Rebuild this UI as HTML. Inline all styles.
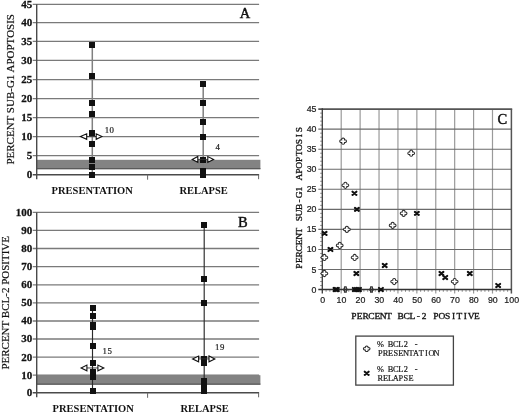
<!DOCTYPE html>
<html><head><meta charset="utf-8"><style>
html,body{margin:0;padding:0;background:#fff;}
svg{display:block;will-change:transform;filter:blur(0.3px);}
.tl{font-family:"Liberation Serif",serif;font-weight:bold;font-size:10.5px;fill:#111;text-anchor:end;stroke:#111;stroke-width:0.25px;}
.ml{font-family:"Liberation Serif",serif;font-size:8.8px;fill:#1a1a1a;stroke:#1a1a1a;stroke-width:0.2px;}
.let{font-family:"Liberation Serif",serif;font-weight:normal;font-size:14.5px;fill:#111;stroke:#111;stroke-width:0.45px;}
.yl{font-family:"Liberation Serif",serif;font-size:11px;fill:#111;stroke:#111;stroke-width:0.2px;}
.xl{font-family:"Liberation Serif",serif;font-weight:bold;font-size:10.5px;fill:#111;}
.ct{font-family:"Liberation Sans",sans-serif;font-size:8.8px;fill:#1a1a1a;stroke:#1a1a1a;stroke-width:0.2px;}
.cl{font-family:"Liberation Serif",serif;font-weight:normal;font-size:8.2px;fill:#111;stroke:#111;stroke-width:0.3px;}
.lg{font-family:"Liberation Serif",serif;font-size:7.7px;fill:#1a1a1a;stroke:#1a1a1a;stroke-width:0.2px;}
</style></head><body>
<svg width="520" height="413" viewBox="0 0 520 413">
<rect width="520" height="413" fill="#fff"/>
<rect x="36.7" y="159.8" width="223.7" height="9.36" fill="#838383"/>
<line x1="36.7" x2="260.4" y1="168.56" y2="168.56" stroke="#5a5a5a" stroke-width="1.2"/>
<line x1="32.7" x2="259.1" y1="155.6" y2="155.6" stroke="#7a7a7a" stroke-width="1.3"/>
<line x1="32.7" x2="259.1" y1="136.6" y2="136.6" stroke="#7a7a7a" stroke-width="1.3"/>
<line x1="32.7" x2="259.1" y1="117.7" y2="117.7" stroke="#7a7a7a" stroke-width="1.3"/>
<line x1="32.7" x2="259.1" y1="98.6" y2="98.6" stroke="#7a7a7a" stroke-width="1.3"/>
<line x1="32.7" x2="259.1" y1="79.7" y2="79.7" stroke="#7a7a7a" stroke-width="1.3"/>
<line x1="32.7" x2="259.1" y1="60.4" y2="60.4" stroke="#7a7a7a" stroke-width="1.3"/>
<line x1="32.7" x2="259.1" y1="41.3" y2="41.3" stroke="#7a7a7a" stroke-width="1.3"/>
<line x1="32.7" x2="259.1" y1="22.6" y2="22.6" stroke="#7a7a7a" stroke-width="1.3"/>
<line x1="32.7" x2="259.1" y1="4.3" y2="4.3" stroke="#7a7a7a" stroke-width="1.3"/>
<line x1="32.7" x2="259.1" y1="174.7" y2="174.7" stroke="#4a4a4a" stroke-width="1.4"/>
<line x1="147.6" x2="147.6" y1="174.7" y2="179.7" stroke="#666" stroke-width="1.0"/>
<line x1="258.6" x2="258.6" y1="174.7" y2="179.2" stroke="#666" stroke-width="1.0"/>
<line x1="36.7" x2="36.7" y1="4.3" y2="179.2" stroke="#4a4a4a" stroke-width="1.4"/>
<text x="0" y="0" class="tl" transform="translate(32.2,178.1) scale(1.05,1)">0</text>
<text x="0" y="0" class="tl" transform="translate(32.2,159) scale(1.05,1)">5</text>
<text x="0" y="0" class="tl" transform="translate(32.2,140) scale(1.05,1)">10</text>
<text x="0" y="0" class="tl" transform="translate(32.2,121.1) scale(1.05,1)">15</text>
<text x="0" y="0" class="tl" transform="translate(32.2,102) scale(1.05,1)">20</text>
<text x="0" y="0" class="tl" transform="translate(32.2,83.1) scale(1.05,1)">25</text>
<text x="0" y="0" class="tl" transform="translate(32.2,63.8) scale(1.05,1)">30</text>
<text x="0" y="0" class="tl" transform="translate(32.2,44.7) scale(1.05,1)">35</text>
<text x="0" y="0" class="tl" transform="translate(32.2,26) scale(1.05,1)">40</text>
<text x="0" y="0" class="tl" transform="translate(32.2,7.7) scale(1.05,1)">45</text>
<line x1="92.3" x2="92.3" y1="45.12" y2="174.7" stroke="#808080" stroke-width="1.5"/>
<line x1="203.2" x2="203.2" y1="83.48" y2="174.7" stroke="#808080" stroke-width="1.5"/>
<rect x="89" y="42" width="6" height="6" fill="#111"/>
<rect x="89" y="73" width="6" height="6" fill="#111"/>
<rect x="89" y="100" width="6" height="6" fill="#111"/>
<rect x="89" y="111" width="6" height="6" fill="#111"/>
<rect x="89" y="130" width="6" height="6" fill="#111"/>
<rect x="89" y="141" width="6" height="6" fill="#111"/>
<rect x="89" y="157" width="6" height="6" fill="#111"/>
<rect x="89" y="164" width="6" height="6" fill="#111"/>
<rect x="89" y="172" width="6" height="6" fill="#111"/>
<rect x="200" y="81" width="6" height="6" fill="#111"/>
<rect x="200" y="100" width="6" height="6" fill="#111"/>
<rect x="200" y="119" width="6" height="6" fill="#111"/>
<rect x="200" y="134" width="6" height="6" fill="#111"/>
<rect x="200" y="157" width="6" height="6" fill="#111"/>
<rect x="200" y="168" width="6" height="6" fill="#111"/>
<rect x="200" y="172" width="6" height="6" fill="#111"/>
<line x1="86.7" x2="96.2" y1="136.6" y2="136.6" stroke="#333" stroke-width="0.9"/>
<path d="M80.5,136.6 L86.7,133.85 L86.7,139.35 Z M101.9,136.6 L96.2,133.85 L96.2,139.35 Z" fill="#fff" stroke="#111" stroke-width="1.1" stroke-linejoin="miter"/>
<line x1="197.8" x2="207.8" y1="159.42" y2="159.42" stroke="#333" stroke-width="0.9"/>
<path d="M192.2,159.42 L197.8,156.52 L197.8,162.32 Z M213.6,159.42 L207.8,156.52 L207.8,162.32 Z" fill="#fff" stroke="#111" stroke-width="1.1" stroke-linejoin="miter"/>
<g transform="scale(1.0,1)"><text y="132.6" class="ml" text-anchor="middle"><tspan x="106.9">1</tspan><tspan x="111.8">0</tspan></text></g>
<g transform="scale(1.0,1)"><text y="149.9" class="ml" text-anchor="middle"><tspan x="217.7">4</tspan></text></g>
<text x="239.8" y="18" class="let" transform="translate(239.8,18) scale(1,1) translate(-239.8,-18)">A</text>
<text x="0" y="0" class="yl" text-anchor="middle" transform="translate(14,89.3) rotate(-90)">PERCENT SUB-G1 APOPTOSIS</text>
<text x="92.2" y="193.8" class="xl" text-anchor="middle">PRESENTATION</text>
<text x="203.6" y="193.8" class="xl" text-anchor="middle">RELAPSE</text>
<rect x="36.7" y="375.2" width="223.7" height="9.5" fill="#838383"/>
<line x1="36.7" x2="260.4" y1="384.1" y2="384.1" stroke="#5a5a5a" stroke-width="1.2"/>
<line x1="32.7" x2="259.1" y1="375.2" y2="375.2" stroke="#7a7a7a" stroke-width="1.3"/>
<line x1="32.7" x2="259.1" y1="357.1" y2="357.1" stroke="#7a7a7a" stroke-width="1.3"/>
<line x1="32.7" x2="259.1" y1="339" y2="339" stroke="#7a7a7a" stroke-width="1.3"/>
<line x1="32.7" x2="259.1" y1="321" y2="321" stroke="#7a7a7a" stroke-width="1.3"/>
<line x1="32.7" x2="259.1" y1="302.9" y2="302.9" stroke="#7a7a7a" stroke-width="1.3"/>
<line x1="32.7" x2="259.1" y1="284.8" y2="284.8" stroke="#7a7a7a" stroke-width="1.3"/>
<line x1="32.7" x2="259.1" y1="266.6" y2="266.6" stroke="#7a7a7a" stroke-width="1.3"/>
<line x1="32.7" x2="259.1" y1="248.5" y2="248.5" stroke="#7a7a7a" stroke-width="1.3"/>
<line x1="32.7" x2="259.1" y1="230.3" y2="230.3" stroke="#7a7a7a" stroke-width="1.3"/>
<line x1="32.7" x2="259.1" y1="212.4" y2="212.4" stroke="#7a7a7a" stroke-width="1.3"/>
<line x1="32.7" x2="259.1" y1="392.8" y2="392.8" stroke="#4a4a4a" stroke-width="1.4"/>
<line x1="147.6" x2="147.6" y1="392.8" y2="397.8" stroke="#666" stroke-width="1.0"/>
<line x1="258.6" x2="258.6" y1="392.8" y2="397.3" stroke="#666" stroke-width="1.0"/>
<line x1="36.7" x2="36.7" y1="212.4" y2="397.3" stroke="#4a4a4a" stroke-width="1.4"/>
<text x="0" y="0" class="tl" transform="translate(32.2,396.2) scale(1.05,1)">0</text>
<text x="0" y="0" class="tl" transform="translate(32.2,378.6) scale(1.05,1)">10</text>
<text x="0" y="0" class="tl" transform="translate(32.2,360.5) scale(1.05,1)">20</text>
<text x="0" y="0" class="tl" transform="translate(32.2,342.4) scale(1.05,1)">30</text>
<text x="0" y="0" class="tl" transform="translate(32.2,324.4) scale(1.05,1)">40</text>
<text x="0" y="0" class="tl" transform="translate(32.2,306.3) scale(1.05,1)">50</text>
<text x="0" y="0" class="tl" transform="translate(32.2,288.2) scale(1.05,1)">60</text>
<text x="0" y="0" class="tl" transform="translate(32.2,270) scale(1.05,1)">70</text>
<text x="0" y="0" class="tl" transform="translate(32.2,251.9) scale(1.05,1)">80</text>
<text x="0" y="0" class="tl" transform="translate(32.2,233.7) scale(1.05,1)">90</text>
<text x="0" y="0" class="tl" transform="translate(32.2,215.8) scale(1.05,1)">100</text>
<line x1="92.5" x2="92.5" y1="308.33" y2="391.04" stroke="#2a2a2a" stroke-width="1.15"/>
<line x1="204.2" x2="204.2" y1="224.93" y2="390.69" stroke="#2a2a2a" stroke-width="1.15"/>
<rect x="90" y="305" width="6" height="6" fill="#111"/>
<rect x="90" y="313" width="6" height="6" fill="#111"/>
<rect x="90" y="322" width="6" height="6" fill="#111"/>
<rect x="90" y="324" width="6" height="6" fill="#111"/>
<rect x="90" y="343" width="6" height="6" fill="#111"/>
<rect x="90" y="360" width="6" height="6" fill="#111"/>
<rect x="90" y="369" width="6" height="6" fill="#111"/>
<rect x="90" y="370" width="6" height="6" fill="#111"/>
<rect x="90" y="372" width="6" height="6" fill="#111"/>
<rect x="90" y="374" width="6" height="6" fill="#111"/>
<rect x="90" y="388" width="6" height="6" fill="#111"/>
<rect x="201" y="222" width="6" height="6" fill="#111"/>
<rect x="201" y="276" width="6" height="6" fill="#111"/>
<rect x="201" y="300" width="6" height="6" fill="#111"/>
<rect x="201" y="356" width="6" height="6" fill="#111"/>
<rect x="201" y="360" width="6" height="6" fill="#111"/>
<rect x="201" y="378" width="6" height="6" fill="#111"/>
<rect x="201" y="381" width="6" height="6" fill="#111"/>
<rect x="201" y="384" width="6" height="6" fill="#111"/>
<rect x="201" y="386" width="6" height="6" fill="#111"/>
<rect x="201" y="388" width="6" height="6" fill="#111"/>
<line x1="86.9" x2="97.9" y1="367.96" y2="367.96" stroke="#333" stroke-width="0.9"/>
<path d="M81.1,367.96 L86.9,365.06 L86.9,370.86 Z M103.8,367.96 L97.9,365.06 L97.9,370.86 Z" fill="#fff" stroke="#111" stroke-width="1.1" stroke-linejoin="miter"/>
<line x1="198.6" x2="209" y1="358.91" y2="358.91" stroke="#333" stroke-width="0.9"/>
<path d="M192.6,358.91 L198.6,356.01 L198.6,361.81 Z M214.8,358.91 L209,356.01 L209,361.81 Z" fill="#fff" stroke="#111" stroke-width="1.1" stroke-linejoin="miter"/>
<g transform="scale(1.0,1)"><text y="354" class="ml" text-anchor="middle"><tspan x="104.7">1</tspan><tspan x="109.6">5</tspan></text></g>
<g transform="scale(1.0,1)"><text y="350" class="ml" text-anchor="middle"><tspan x="217.3">1</tspan><tspan x="222.2">9</tspan></text></g>
<text x="237.9" y="226.9" class="let" transform="translate(237.9,226.9) scale(1,1) translate(-237.9,-226.9)">B</text>
<text x="0" y="0" class="yl" text-anchor="middle" transform="translate(9.2,302.8) rotate(-90)">PERCENT BCL-2 POSITIVE</text>
<text x="93.2" y="412.2" class="xl" text-anchor="middle">PRESENTATION</text>
<text x="204.6" y="412.2" class="xl" text-anchor="middle">RELAPSE</text>
<line x1="341.21" x2="341.21" y1="109.1" y2="293.55" stroke="#9a9a9a" stroke-width="1.2"/>
<line x1="360.12" x2="360.12" y1="109.1" y2="293.55" stroke="#9a9a9a" stroke-width="1.2"/>
<line x1="379.03" x2="379.03" y1="109.1" y2="293.55" stroke="#9a9a9a" stroke-width="1.2"/>
<line x1="397.94" x2="397.94" y1="109.1" y2="293.55" stroke="#9a9a9a" stroke-width="1.2"/>
<line x1="416.85" x2="416.85" y1="109.1" y2="293.55" stroke="#9a9a9a" stroke-width="1.2"/>
<line x1="435.76" x2="435.76" y1="109.1" y2="293.55" stroke="#9a9a9a" stroke-width="1.2"/>
<line x1="454.67" x2="454.67" y1="109.1" y2="293.55" stroke="#9a9a9a" stroke-width="1.2"/>
<line x1="473.58" x2="473.58" y1="109.1" y2="293.55" stroke="#9a9a9a" stroke-width="1.2"/>
<line x1="492.49" x2="492.49" y1="109.1" y2="293.55" stroke="#9a9a9a" stroke-width="1.2"/>
<line x1="318.3" x2="511.4" y1="269.5" y2="269.5" stroke="#6a6a6a" stroke-width="1.1"/>
<line x1="318.3" x2="511.4" y1="249.45" y2="249.45" stroke="#6a6a6a" stroke-width="1.1"/>
<line x1="318.3" x2="511.4" y1="229.4" y2="229.4" stroke="#6a6a6a" stroke-width="1.1"/>
<line x1="318.3" x2="511.4" y1="209.35" y2="209.35" stroke="#6a6a6a" stroke-width="1.1"/>
<line x1="318.3" x2="511.4" y1="189.3" y2="189.3" stroke="#6a6a6a" stroke-width="1.1"/>
<line x1="318.3" x2="511.4" y1="169.25" y2="169.25" stroke="#6a6a6a" stroke-width="1.1"/>
<line x1="318.3" x2="511.4" y1="149.2" y2="149.2" stroke="#6a6a6a" stroke-width="1.1"/>
<line x1="318.3" x2="511.4" y1="129.15" y2="129.15" stroke="#6a6a6a" stroke-width="1.1"/>
<line x1="318.3" x2="512.2" y1="109.1" y2="109.1" stroke="#555" stroke-width="1.6"/>
<line x1="511.4" x2="511.4" y1="109.1" y2="293.55" stroke="#555" stroke-width="1.5"/>
<line x1="320.1" x2="322.3" y1="285.54" y2="285.54" stroke="#888" stroke-width="0.9"/>
<line x1="320.1" x2="322.3" y1="281.53" y2="281.53" stroke="#888" stroke-width="0.9"/>
<line x1="320.1" x2="322.3" y1="277.52" y2="277.52" stroke="#888" stroke-width="0.9"/>
<line x1="320.1" x2="322.3" y1="273.51" y2="273.51" stroke="#888" stroke-width="0.9"/>
<line x1="320.1" x2="322.3" y1="265.49" y2="265.49" stroke="#888" stroke-width="0.9"/>
<line x1="320.1" x2="322.3" y1="261.48" y2="261.48" stroke="#888" stroke-width="0.9"/>
<line x1="320.1" x2="322.3" y1="257.47" y2="257.47" stroke="#888" stroke-width="0.9"/>
<line x1="320.1" x2="322.3" y1="253.46" y2="253.46" stroke="#888" stroke-width="0.9"/>
<line x1="320.1" x2="322.3" y1="245.44" y2="245.44" stroke="#888" stroke-width="0.9"/>
<line x1="320.1" x2="322.3" y1="241.43" y2="241.43" stroke="#888" stroke-width="0.9"/>
<line x1="320.1" x2="322.3" y1="237.42" y2="237.42" stroke="#888" stroke-width="0.9"/>
<line x1="320.1" x2="322.3" y1="233.41" y2="233.41" stroke="#888" stroke-width="0.9"/>
<line x1="320.1" x2="322.3" y1="225.39" y2="225.39" stroke="#888" stroke-width="0.9"/>
<line x1="320.1" x2="322.3" y1="221.38" y2="221.38" stroke="#888" stroke-width="0.9"/>
<line x1="320.1" x2="322.3" y1="217.37" y2="217.37" stroke="#888" stroke-width="0.9"/>
<line x1="320.1" x2="322.3" y1="213.36" y2="213.36" stroke="#888" stroke-width="0.9"/>
<line x1="320.1" x2="322.3" y1="205.34" y2="205.34" stroke="#888" stroke-width="0.9"/>
<line x1="320.1" x2="322.3" y1="201.33" y2="201.33" stroke="#888" stroke-width="0.9"/>
<line x1="320.1" x2="322.3" y1="197.32" y2="197.32" stroke="#888" stroke-width="0.9"/>
<line x1="320.1" x2="322.3" y1="193.31" y2="193.31" stroke="#888" stroke-width="0.9"/>
<line x1="320.1" x2="322.3" y1="185.29" y2="185.29" stroke="#888" stroke-width="0.9"/>
<line x1="320.1" x2="322.3" y1="181.28" y2="181.28" stroke="#888" stroke-width="0.9"/>
<line x1="320.1" x2="322.3" y1="177.27" y2="177.27" stroke="#888" stroke-width="0.9"/>
<line x1="320.1" x2="322.3" y1="173.26" y2="173.26" stroke="#888" stroke-width="0.9"/>
<line x1="320.1" x2="322.3" y1="165.24" y2="165.24" stroke="#888" stroke-width="0.9"/>
<line x1="320.1" x2="322.3" y1="161.23" y2="161.23" stroke="#888" stroke-width="0.9"/>
<line x1="320.1" x2="322.3" y1="157.22" y2="157.22" stroke="#888" stroke-width="0.9"/>
<line x1="320.1" x2="322.3" y1="153.21" y2="153.21" stroke="#888" stroke-width="0.9"/>
<line x1="320.1" x2="322.3" y1="145.19" y2="145.19" stroke="#888" stroke-width="0.9"/>
<line x1="320.1" x2="322.3" y1="141.18" y2="141.18" stroke="#888" stroke-width="0.9"/>
<line x1="320.1" x2="322.3" y1="137.17" y2="137.17" stroke="#888" stroke-width="0.9"/>
<line x1="320.1" x2="322.3" y1="133.16" y2="133.16" stroke="#888" stroke-width="0.9"/>
<line x1="320.1" x2="322.3" y1="125.14" y2="125.14" stroke="#888" stroke-width="0.9"/>
<line x1="320.1" x2="322.3" y1="121.13" y2="121.13" stroke="#888" stroke-width="0.9"/>
<line x1="320.1" x2="322.3" y1="117.12" y2="117.12" stroke="#888" stroke-width="0.9"/>
<line x1="320.1" x2="322.3" y1="113.11" y2="113.11" stroke="#888" stroke-width="0.9"/>
<line x1="326.08" x2="326.08" y1="289.55" y2="291.85" stroke="#888" stroke-width="0.9"/>
<line x1="329.86" x2="329.86" y1="289.55" y2="291.85" stroke="#888" stroke-width="0.9"/>
<line x1="333.65" x2="333.65" y1="289.55" y2="291.85" stroke="#888" stroke-width="0.9"/>
<line x1="337.43" x2="337.43" y1="289.55" y2="291.85" stroke="#888" stroke-width="0.9"/>
<line x1="344.99" x2="344.99" y1="289.55" y2="291.85" stroke="#888" stroke-width="0.9"/>
<line x1="348.77" x2="348.77" y1="289.55" y2="291.85" stroke="#888" stroke-width="0.9"/>
<line x1="352.56" x2="352.56" y1="289.55" y2="291.85" stroke="#888" stroke-width="0.9"/>
<line x1="356.34" x2="356.34" y1="289.55" y2="291.85" stroke="#888" stroke-width="0.9"/>
<line x1="363.9" x2="363.9" y1="289.55" y2="291.85" stroke="#888" stroke-width="0.9"/>
<line x1="367.68" x2="367.68" y1="289.55" y2="291.85" stroke="#888" stroke-width="0.9"/>
<line x1="371.47" x2="371.47" y1="289.55" y2="291.85" stroke="#888" stroke-width="0.9"/>
<line x1="375.25" x2="375.25" y1="289.55" y2="291.85" stroke="#888" stroke-width="0.9"/>
<line x1="382.81" x2="382.81" y1="289.55" y2="291.85" stroke="#888" stroke-width="0.9"/>
<line x1="386.59" x2="386.59" y1="289.55" y2="291.85" stroke="#888" stroke-width="0.9"/>
<line x1="390.38" x2="390.38" y1="289.55" y2="291.85" stroke="#888" stroke-width="0.9"/>
<line x1="394.16" x2="394.16" y1="289.55" y2="291.85" stroke="#888" stroke-width="0.9"/>
<line x1="401.72" x2="401.72" y1="289.55" y2="291.85" stroke="#888" stroke-width="0.9"/>
<line x1="405.5" x2="405.5" y1="289.55" y2="291.85" stroke="#888" stroke-width="0.9"/>
<line x1="409.29" x2="409.29" y1="289.55" y2="291.85" stroke="#888" stroke-width="0.9"/>
<line x1="413.07" x2="413.07" y1="289.55" y2="291.85" stroke="#888" stroke-width="0.9"/>
<line x1="420.63" x2="420.63" y1="289.55" y2="291.85" stroke="#888" stroke-width="0.9"/>
<line x1="424.41" x2="424.41" y1="289.55" y2="291.85" stroke="#888" stroke-width="0.9"/>
<line x1="428.2" x2="428.2" y1="289.55" y2="291.85" stroke="#888" stroke-width="0.9"/>
<line x1="431.98" x2="431.98" y1="289.55" y2="291.85" stroke="#888" stroke-width="0.9"/>
<line x1="439.54" x2="439.54" y1="289.55" y2="291.85" stroke="#888" stroke-width="0.9"/>
<line x1="443.32" x2="443.32" y1="289.55" y2="291.85" stroke="#888" stroke-width="0.9"/>
<line x1="447.11" x2="447.11" y1="289.55" y2="291.85" stroke="#888" stroke-width="0.9"/>
<line x1="450.89" x2="450.89" y1="289.55" y2="291.85" stroke="#888" stroke-width="0.9"/>
<line x1="458.45" x2="458.45" y1="289.55" y2="291.85" stroke="#888" stroke-width="0.9"/>
<line x1="462.23" x2="462.23" y1="289.55" y2="291.85" stroke="#888" stroke-width="0.9"/>
<line x1="466.02" x2="466.02" y1="289.55" y2="291.85" stroke="#888" stroke-width="0.9"/>
<line x1="469.8" x2="469.8" y1="289.55" y2="291.85" stroke="#888" stroke-width="0.9"/>
<line x1="477.36" x2="477.36" y1="289.55" y2="291.85" stroke="#888" stroke-width="0.9"/>
<line x1="481.14" x2="481.14" y1="289.55" y2="291.85" stroke="#888" stroke-width="0.9"/>
<line x1="484.93" x2="484.93" y1="289.55" y2="291.85" stroke="#888" stroke-width="0.9"/>
<line x1="488.71" x2="488.71" y1="289.55" y2="291.85" stroke="#888" stroke-width="0.9"/>
<line x1="496.27" x2="496.27" y1="289.55" y2="291.85" stroke="#888" stroke-width="0.9"/>
<line x1="500.05" x2="500.05" y1="289.55" y2="291.85" stroke="#888" stroke-width="0.9"/>
<line x1="503.84" x2="503.84" y1="289.55" y2="291.85" stroke="#888" stroke-width="0.9"/>
<line x1="507.62" x2="507.62" y1="289.55" y2="291.85" stroke="#888" stroke-width="0.9"/>
<line x1="322.3" x2="322.3" y1="108.3" y2="293.55" stroke="#3a3a3a" stroke-width="1.3"/>
<line x1="318.3" x2="511.4" y1="289.55" y2="289.55" stroke="#333" stroke-width="1.5"/>
<text x="316.5" y="292.55" class="ct" text-anchor="end">0</text>
<text x="316.5" y="272.5" class="ct" text-anchor="end">5</text>
<text x="316.5" y="252.45" class="ct" text-anchor="end">10</text>
<text x="316.5" y="232.4" class="ct" text-anchor="end">15</text>
<text x="316.5" y="212.35" class="ct" text-anchor="end">20</text>
<text x="316.5" y="192.3" class="ct" text-anchor="end">25</text>
<text x="316.5" y="172.25" class="ct" text-anchor="end">30</text>
<text x="316.5" y="152.2" class="ct" text-anchor="end">35</text>
<text x="316.5" y="132.15" class="ct" text-anchor="end">40</text>
<text x="316.5" y="112.1" class="ct" text-anchor="end">45</text>
<text x="322.6" y="303.3" class="ct" text-anchor="middle">0</text>
<text x="341.51" y="303.3" class="ct" text-anchor="middle">10</text>
<text x="360.42" y="303.3" class="ct" text-anchor="middle">20</text>
<text x="379.33" y="303.3" class="ct" text-anchor="middle">30</text>
<text x="398.24" y="303.3" class="ct" text-anchor="middle">40</text>
<text x="417.15" y="303.3" class="ct" text-anchor="middle">50</text>
<text x="436.06" y="303.3" class="ct" text-anchor="middle">60</text>
<text x="454.97" y="303.3" class="ct" text-anchor="middle">70</text>
<text x="473.88" y="303.3" class="ct" text-anchor="middle">80</text>
<text x="492.79" y="303.3" class="ct" text-anchor="middle">90</text>
<text x="511.7" y="303.3" class="ct" text-anchor="middle">100</text>
<text x="497.6" y="123.6" class="let">C</text>
<g transform="scale(1.15,1)"><text y="318.9" class="cl" text-anchor="middle"><tspan x="307.65">P</tspan><tspan x="312.75">E</tspan><tspan x="317.86">R</tspan><tspan x="322.96">C</tspan><tspan x="328.06">E</tspan><tspan x="333.16">N</tspan><tspan x="338.26">T</tspan><tspan x="348.47">B</tspan><tspan x="353.57">C</tspan><tspan x="358.67">L</tspan><tspan x="363.77">-</tspan><tspan x="368.87">2</tspan><tspan x="379.08">P</tspan><tspan x="384.18">O</tspan><tspan x="389.28">S</tspan><tspan x="394.38">I</tspan><tspan x="399.48">T</tspan><tspan x="404.59">I</tspan><tspan x="409.69">V</tspan><tspan x="414.79">E</tspan></text></g>
<g transform="translate(301.9,197.9) rotate(-90) scale(1.15,1)"><text y="0" class="cl" text-anchor="middle"><tspan x="-59.3">P</tspan><tspan x="-54.14">E</tspan><tspan x="-48.99">R</tspan><tspan x="-43.83">C</tspan><tspan x="-38.67">E</tspan><tspan x="-33.52">N</tspan><tspan x="-28.36">T</tspan><tspan x="-18.05">S</tspan><tspan x="-12.89">U</tspan><tspan x="-7.73">B</tspan><tspan x="-2.58">-</tspan><tspan x="2.58">G</tspan><tspan x="7.73">1</tspan><tspan x="18.05">A</tspan><tspan x="23.2">P</tspan><tspan x="28.36">O</tspan><tspan x="33.52">P</tspan><tspan x="38.67">T</tspan><tspan x="43.83">O</tspan><tspan x="48.99">S</tspan><tspan x="54.14">I</tspan><tspan x="59.3">S</tspan></text></g>
<path transform="translate(343.1,141.18)" d="M1.336,-1.242 A1.450,1.349 0 1 1 1.336,1.242 A1.450,1.349 0 1 1 -1.336,1.242 A1.450,1.349 0 1 1 -1.336,-1.242 A1.450,1.349 0 1 1 1.336,-1.242 Z" fill="#fff" stroke="#2a2a2a" stroke-width="1.05" stroke-linejoin="round"/>
<path transform="translate(411.18,153.21)" d="M1.336,-1.242 A1.450,1.349 0 1 1 1.336,1.242 A1.450,1.349 0 1 1 -1.336,1.242 A1.450,1.349 0 1 1 -1.336,-1.242 A1.450,1.349 0 1 1 1.336,-1.242 Z" fill="#fff" stroke="#2a2a2a" stroke-width="1.05" stroke-linejoin="round"/>
<path transform="translate(345.37,185.29)" d="M1.336,-1.242 A1.450,1.349 0 1 1 1.336,1.242 A1.450,1.349 0 1 1 -1.336,1.242 A1.450,1.349 0 1 1 -1.336,-1.242 A1.450,1.349 0 1 1 1.336,-1.242 Z" fill="#fff" stroke="#2a2a2a" stroke-width="1.05" stroke-linejoin="round"/>
<path transform="translate(403.61,213.36)" d="M1.336,-1.242 A1.450,1.349 0 1 1 1.336,1.242 A1.450,1.349 0 1 1 -1.336,1.242 A1.450,1.349 0 1 1 -1.336,-1.242 A1.450,1.349 0 1 1 1.336,-1.242 Z" fill="#fff" stroke="#2a2a2a" stroke-width="1.05" stroke-linejoin="round"/>
<path transform="translate(392.65,225.39)" d="M1.336,-1.242 A1.450,1.349 0 1 1 1.336,1.242 A1.450,1.349 0 1 1 -1.336,1.242 A1.450,1.349 0 1 1 -1.336,-1.242 A1.450,1.349 0 1 1 1.336,-1.242 Z" fill="#fff" stroke="#2a2a2a" stroke-width="1.05" stroke-linejoin="round"/>
<path transform="translate(346.88,229.4)" d="M1.336,-1.242 A1.450,1.349 0 1 1 1.336,1.242 A1.450,1.349 0 1 1 -1.336,1.242 A1.450,1.349 0 1 1 -1.336,-1.242 A1.450,1.349 0 1 1 1.336,-1.242 Z" fill="#fff" stroke="#2a2a2a" stroke-width="1.05" stroke-linejoin="round"/>
<path transform="translate(339.7,245.44)" d="M1.336,-1.242 A1.450,1.349 0 1 1 1.336,1.242 A1.450,1.349 0 1 1 -1.336,1.242 A1.450,1.349 0 1 1 -1.336,-1.242 A1.450,1.349 0 1 1 1.336,-1.242 Z" fill="#fff" stroke="#2a2a2a" stroke-width="1.05" stroke-linejoin="round"/>
<path transform="translate(324.38,257.47)" d="M1.336,-1.242 A1.450,1.349 0 1 1 1.336,1.242 A1.450,1.349 0 1 1 -1.336,1.242 A1.450,1.349 0 1 1 -1.336,-1.242 A1.450,1.349 0 1 1 1.336,-1.242 Z" fill="#fff" stroke="#2a2a2a" stroke-width="1.05" stroke-linejoin="round"/>
<path transform="translate(354.64,257.47)" d="M1.336,-1.242 A1.450,1.349 0 1 1 1.336,1.242 A1.450,1.349 0 1 1 -1.336,1.242 A1.450,1.349 0 1 1 -1.336,-1.242 A1.450,1.349 0 1 1 1.336,-1.242 Z" fill="#fff" stroke="#2a2a2a" stroke-width="1.05" stroke-linejoin="round"/>
<path transform="translate(324.38,273.51)" d="M1.336,-1.242 A1.450,1.349 0 1 1 1.336,1.242 A1.450,1.349 0 1 1 -1.336,1.242 A1.450,1.349 0 1 1 -1.336,-1.242 A1.450,1.349 0 1 1 1.336,-1.242 Z" fill="#fff" stroke="#2a2a2a" stroke-width="1.05" stroke-linejoin="round"/>
<path transform="translate(394.16,281.53)" d="M1.336,-1.242 A1.450,1.349 0 1 1 1.336,1.242 A1.450,1.349 0 1 1 -1.336,1.242 A1.450,1.349 0 1 1 -1.336,-1.242 A1.450,1.349 0 1 1 1.336,-1.242 Z" fill="#fff" stroke="#2a2a2a" stroke-width="1.05" stroke-linejoin="round"/>
<path transform="translate(454.67,281.53)" d="M1.336,-1.242 A1.450,1.349 0 1 1 1.336,1.242 A1.450,1.349 0 1 1 -1.336,1.242 A1.450,1.349 0 1 1 -1.336,-1.242 A1.450,1.349 0 1 1 1.336,-1.242 Z" fill="#fff" stroke="#2a2a2a" stroke-width="1.05" stroke-linejoin="round"/>
<path transform="translate(345.37,289.55)" d="M-0.9,-2.6 L0.9,-2.6 L0.9,-0.9 L1.5,-0.9 L1.5,0.9 L0.9,0.9 L0.9,2.6 L-0.9,2.6 L-0.9,0.9 L-1.5,0.9 L-1.5,-0.9 L-0.9,-0.9 Z" fill="none" stroke="#333" stroke-width="1.2" stroke-linejoin="round"/>
<path transform="translate(371.47,289.55)" d="M-0.9,-2.6 L0.9,-2.6 L0.9,-0.9 L1.5,-0.9 L1.5,0.9 L0.9,0.9 L0.9,2.6 L-0.9,2.6 L-0.9,0.9 L-1.5,0.9 L-1.5,-0.9 L-0.9,-0.9 Z" fill="none" stroke="#333" stroke-width="1.2" stroke-linejoin="round"/>
<path transform="translate(354.45,193.31)" d="M-1.95,-1.55 L1.95,1.55 M1.95,-1.55 L-1.95,1.55" stroke="#111" stroke-width="2.15" stroke-linecap="round"/>
<path transform="translate(356.91,209.35)" d="M-1.95,-1.55 L1.95,1.55 M1.95,-1.55 L-1.95,1.55" stroke="#111" stroke-width="2.15" stroke-linecap="round"/>
<path transform="translate(416.85,213.36)" d="M-1.95,-1.55 L1.95,1.55 M1.95,-1.55 L-1.95,1.55" stroke="#111" stroke-width="2.15" stroke-linecap="round"/>
<path transform="translate(324.57,233.41)" d="M-1.95,-1.55 L1.95,1.55 M1.95,-1.55 L-1.95,1.55" stroke="#111" stroke-width="2.15" stroke-linecap="round"/>
<path transform="translate(330.43,249.45)" d="M-1.95,-1.55 L1.95,1.55 M1.95,-1.55 L-1.95,1.55" stroke="#111" stroke-width="2.15" stroke-linecap="round"/>
<path transform="translate(384.7,265.49)" d="M-1.95,-1.55 L1.95,1.55 M1.95,-1.55 L-1.95,1.55" stroke="#111" stroke-width="2.15" stroke-linecap="round"/>
<path transform="translate(356.34,273.51)" d="M-1.95,-1.55 L1.95,1.55 M1.95,-1.55 L-1.95,1.55" stroke="#111" stroke-width="2.15" stroke-linecap="round"/>
<path transform="translate(441.43,273.51)" d="M-1.95,-1.55 L1.95,1.55 M1.95,-1.55 L-1.95,1.55" stroke="#111" stroke-width="2.15" stroke-linecap="round"/>
<path transform="translate(445.22,277.52)" d="M-1.95,-1.55 L1.95,1.55 M1.95,-1.55 L-1.95,1.55" stroke="#111" stroke-width="2.15" stroke-linecap="round"/>
<path transform="translate(469.8,273.51)" d="M-1.95,-1.55 L1.95,1.55 M1.95,-1.55 L-1.95,1.55" stroke="#111" stroke-width="2.15" stroke-linecap="round"/>
<path transform="translate(498.16,285.54)" d="M-1.95,-1.55 L1.95,1.55 M1.95,-1.55 L-1.95,1.55" stroke="#111" stroke-width="2.15" stroke-linecap="round"/>
<path transform="translate(335.54,289.55)" d="M-1.95,-1.55 L1.95,1.55 M1.95,-1.55 L-1.95,1.55" stroke="#111" stroke-width="2.15" stroke-linecap="round"/>
<path transform="translate(336.86,289.55)" d="M-1.95,-1.55 L1.95,1.55 M1.95,-1.55 L-1.95,1.55" stroke="#111" stroke-width="2.15" stroke-linecap="round"/>
<path transform="translate(354.83,289.55)" d="M-1.95,-1.55 L1.95,1.55 M1.95,-1.55 L-1.95,1.55" stroke="#111" stroke-width="2.15" stroke-linecap="round"/>
<path transform="translate(356.91,289.55)" d="M-1.95,-1.55 L1.95,1.55 M1.95,-1.55 L-1.95,1.55" stroke="#111" stroke-width="2.15" stroke-linecap="round"/>
<path transform="translate(358.99,289.55)" d="M-1.95,-1.55 L1.95,1.55 M1.95,-1.55 L-1.95,1.55" stroke="#111" stroke-width="2.15" stroke-linecap="round"/>
<path transform="translate(380.92,289.55)" d="M-1.95,-1.55 L1.95,1.55 M1.95,-1.55 L-1.95,1.55" stroke="#111" stroke-width="2.15" stroke-linecap="round"/>
<rect x="355.8" y="336.1" width="97.6" height="49" fill="#fff" stroke="#444" stroke-width="1.3"/>
<path transform="translate(366.7,348.8)" d="M1.367,-1.149 A1.450,1.218 0 1 1 1.367,1.149 A1.450,1.218 0 1 1 -1.367,1.149 A1.450,1.218 0 1 1 -1.367,-1.149 A1.450,1.218 0 1 1 1.367,-1.149 Z" fill="#fff" stroke="#2a2a2a" stroke-width="1.05" stroke-linejoin="round"/>
<path transform="translate(366.7,373.3)" d="M-1.95,-1.55 L1.95,1.55 M1.95,-1.55 L-1.95,1.55" stroke="#111" stroke-width="2.15" stroke-linecap="round"/>
<g transform="scale(1.08,1)"><text y="346.8" class="lg" text-anchor="middle"><tspan x="352.22">%</tspan><tspan x="361.67">B</tspan><tspan x="366.39">C</tspan><tspan x="371.11">L</tspan><tspan x="375.83">2</tspan><tspan x="385.28">-</tspan></text></g>
<g transform="scale(1.08,1)"><text y="356.1" class="lg" text-anchor="middle"><tspan x="352.22">P</tspan><tspan x="356.94">R</tspan><tspan x="361.67">E</tspan><tspan x="366.39">S</tspan><tspan x="371.11">E</tspan><tspan x="375.83">N</tspan><tspan x="380.56">T</tspan><tspan x="385.28">A</tspan><tspan x="390">T</tspan><tspan x="394.72">I</tspan><tspan x="399.44">O</tspan><tspan x="404.17">N</tspan></text></g>
<g transform="scale(1.08,1)"><text y="371.6" class="lg" text-anchor="middle"><tspan x="352.22">%</tspan><tspan x="361.67">B</tspan><tspan x="366.39">C</tspan><tspan x="371.11">L</tspan><tspan x="375.83">2</tspan><tspan x="385.28">-</tspan></text></g>
<g transform="scale(1.08,1)"><text y="380.6" class="lg" text-anchor="middle"><tspan x="352.22">R</tspan><tspan x="356.94">E</tspan><tspan x="361.67">L</tspan><tspan x="366.39">A</tspan><tspan x="371.11">P</tspan><tspan x="375.83">S</tspan><tspan x="380.56">E</tspan></text></g>
</svg>
</body></html>
